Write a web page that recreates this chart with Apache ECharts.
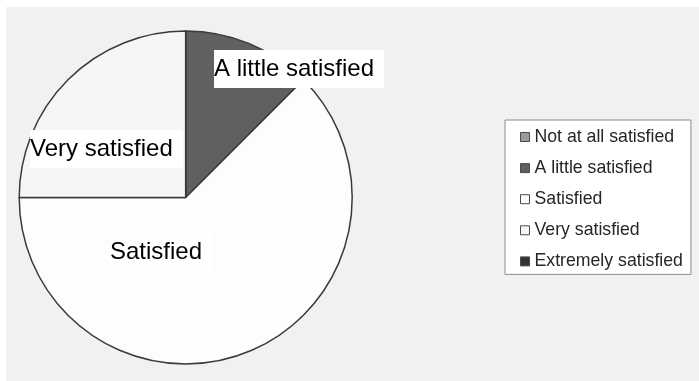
<!DOCTYPE html>
<html>
<head>
<meta charset="utf-8">
<script src="https://cdn.jsdelivr.net/npm/echarts@6/dist/echarts.min.js"></script>
<style>
  html, body { margin: 0; padding: 0; background: #ffffff; }
  #panel { position: absolute; left: 6px; top: 7px; width: 693px; height: 374px; background: #f0f1f3; }
  #chart { position: absolute; left: 0; top: 0; width: 699px; height: 381px; }
</style>
</head>
<body>
<div id="panel"></div>
<div id="chart"></div>
<script>
// Satisfaction responses, in legend order
const categories = ['Not at all satisfied', 'A little satisfied', 'Satisfied', 'Very satisfied', 'Extremely satisfied'];
const counts = [0, 1, 5, 2, 0];
const sliceColors = ['#9a9a9a', '#606060', '#fdfdfd', '#f6f6f7', '#333333'];

// Top-left corners of the white label boxes
const labelSpots = {
  'A little satisfied': [214, 50],
  'Satisfied': [110, 233],
  'Very satisfied': [30, 130]
};

const FONT = "'Liberation Sans', Arial, Helvetica, sans-serif";

const chart = echarts.init(document.getElementById('chart'), null, { renderer: 'canvas' });

chart.setOption({
  backgroundColor: 'transparent',
  animation: false,
  legend: {
    orient: 'vertical',
    left: 505,
    top: 120,
    icon: 'rect',
    itemWidth: 9,
    itemHeight: 9,
    itemGap: 13.1,
    selectedMode: false,
    backgroundColor: '#ffffff',
    borderColor: '#8a8a8a',
    borderWidth: 1,
    borderRadius: 0,
    padding: [8, 8, 4, 15],
    itemStyle: { borderColor: '#4a4a4a', borderWidth: 1 },
    textStyle: { fontFamily: FONT, fontSize: 17.7, color: '#262626', lineHeight: 17.5 },
    data: categories
  },
  series: [{
    type: 'pie',
    center: [185.7, 197.5],
    radius: 166.5,
    startAngle: 90,
    clockwise: true,
    minAngle: 0,
    stillShowZeroSum: true,
    avoidLabelOverlap: false,
    silent: true,
    itemStyle: { borderColor: '#3a3a3a', borderWidth: 1.5 },
    label: {
      position: 'inside',
      fontFamily: FONT,
      fontSize: 24,
      color: '#000000',
      lineHeight: 28,
      backgroundColor: '#ffffff',
      padding: [5, 10, 5, 0]
    },
    labelLine: { show: false },
    labelLayout: function (params) {
      const spot = labelSpots[categories[params.dataIndex]];
      if (!spot) return {};
      return { x: spot[0], y: spot[1], align: 'left', verticalAlign: 'top' };
    },
    data: categories.map(function (name, i) {
      return {
        name: name,
        value: counts[i],
        itemStyle: { color: sliceColors[i] },
        label: { show: counts[i] > 0 }
      };
    })
  }]
});
</script>
</body>
</html>
